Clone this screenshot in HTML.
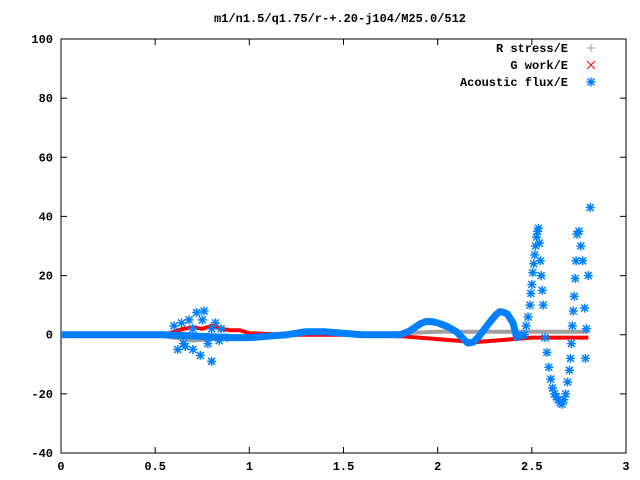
<!DOCTYPE html>
<html><head><meta charset="utf-8"><style>
body{margin:0;background:#fff}
svg{display:block;font-family:"Liberation Mono",monospace;font-size:12px;font-weight:bold}
</style></head><body>
<svg id="c" width="640" height="480">
<text x="340" y="22" text-anchor="middle">m1/n1.5/q1.75/r-+.20-j104/M25.0/512</text>
<g id="axes"></g><g id="plot"></g>
<g>
<text x="568" y="52" text-anchor="end">R stress/E</text>
<text x="568" y="69" text-anchor="end">G work/E</text>
<text x="568" y="86" text-anchor="end">Acoustic flux/E</text>
</g>
</svg>
<script>
const xTicks=[0,0.5,1,1.5,2,2.5,3];
const xTickLabels=["0","0.5","1","1.5","2","2.5","3"];
const yTicks=[-40,-20,0,20,40,60,80,100];
const rX=[0,0.3,0.55,0.6,0.65,0.7,0.75,0.8,0.85,0.9,0.95,1.0,1.2,1.4,1.6,1.8,1.9,2.0,2.1,2.2,2.3,2.4,2.5,2.6,2.7,2.8];
const rY=[0,0,0,1,2,2.5,2,3,2,1.5,1.5,0.5,0,0,0,-0.5,-1,-1.5,-2,-2.5,-2,-1.5,-1,-1,-1,-1];
const gX=[0,0.5,0.7,0.9,1.2,1.5,1.8,2.0,2.2,2.4,2.6,2.8];
const gY=[0,0,-2,-1,0,0,0.5,1,1,1,1,1];
const aX=[0,0.55,0.9,1.0,1.1,1.2,1.3,1.4,1.5,1.6,1.7,1.8,1.85,1.88,1.91,1.94,1.97,2.0,2.05,2.1,2.13,2.16,2.19,2.22,2.25,2.28,2.31,2.33,2.35,2.37,2.4,2.42,2.45];
const aY=[0,0,-1,-1,-0.5,0,1,1,0.5,0,0,0,1.2,2.5,3.8,4.5,4.4,4,2.8,1,-1,-2.8,-2.5,-0.5,2,4.5,6.8,7.8,7.6,7,4,-1,0];
const sX=[0.6,0.62,0.64,0.66,0.68,0.7,0.72,0.74,0.76,0.78,0.8,0.82,0.85,0.88,0.65,0.7,0.75,0.8,0.84,
2.46,2.47,2.48,2.49,2.495,2.5,2.505,2.51,2.515,2.52,2.525,2.53,2.535,2.54,2.545,2.55,2.555,2.56,2.57,2.58,2.59,2.6,2.61,2.62,2.63,2.64,2.65,2.66,2.67,2.68,2.69,2.7,2.705,2.71,2.715,2.72,2.725,2.73,2.735,2.74,2.75,2.76,2.77,2.78,2.785,2.79,2.8,2.81];
const sY=[3,-5,4,-4,5,2,7.5,-7,8,-3,-9,4,2,-1,-3,-5,5,2,-2,
0,3,6,10,14,17,21,24,27,30,33,35,36,31,25,20,15,10,-1,-6,-11,-15,-18,-20,-21,-22,-23,-23.5,-22,-20,-16,-12,-8,-3,3,8,13,19,25,34,35,30,25,9,-8,2,20,43];
const L=61,R=626,T=39,B=453;
const xs=v=>L+(v-0)/3*(R-L), ys=v=>B-(v+40)/140*(B-T);
const NS="http://www.w3.org/2000/svg";
function mk(p,t,a){const e=document.createElementNS(NS,t);for(const k in a)e.setAttribute(k,a[k]);p.appendChild(e);return e;}
const ax=document.getElementById('axes'),pl=document.getElementById('plot');
const fr=mk(ax,'rect',{x:L,y:T,width:R-L,height:B-T,fill:'none',stroke:'#000'});

xTicks.forEach((v,i)=>{const x=xs(v);mk(ax,'path',{d:`M${x} ${B}v-6M${x} ${T}v6`,stroke:'#000'});
const t=mk(ax,'text',{x:x,y:B+17,'text-anchor':'middle'});t.textContent=xTickLabels[i];
});
yTicks.forEach(v=>{const y=ys(v);mk(ax,'path',{d:`M${L} ${y}h6M${R} ${y}h-6`,stroke:'#000'});
const t=mk(ax,'text',{x:L-8,y:y+4,'text-anchor':'end'});t.textContent=v;
});
function line(X,Y,c,w,name){let d='';X.forEach((v,i)=>d+=(i?'L':'M')+xs(v)+' '+ys(Y[i]));
const p=mk(pl,'path',{d:d,stroke:c,'stroke-width':w,fill:'none','stroke-linejoin':'round'});
}
function star(x,y,c){mk(pl,'path',{d:`M${x-4.5} ${y}h9M${x} ${y-4.5}v9M${x-3.5} ${y-3.5}l7 7M${x-3.5} ${y+3.5}l7 -7`,stroke:c,'stroke-width':1.5});}
line(gX,gY,'#a0a0a0',4,'r-stress-series');
line(rX,rY,'#ff0000',4,'g-work-series');
line(aX,aY,'#0080ff',7,'acoustic-flux-series');
sX.forEach((v,i)=>star(xs(v),ys(sY[i]),'#0080ff'));
mk(pl,'path',{d:'M587 48h8M591 44v8',stroke:'#a0a0a0'});
mk(pl,'path',{d:'M587 61l8 8M587 69l8 -8',stroke:'#ff0000'});
star(591,82,'#0080ff');
</script>
</body></html>
